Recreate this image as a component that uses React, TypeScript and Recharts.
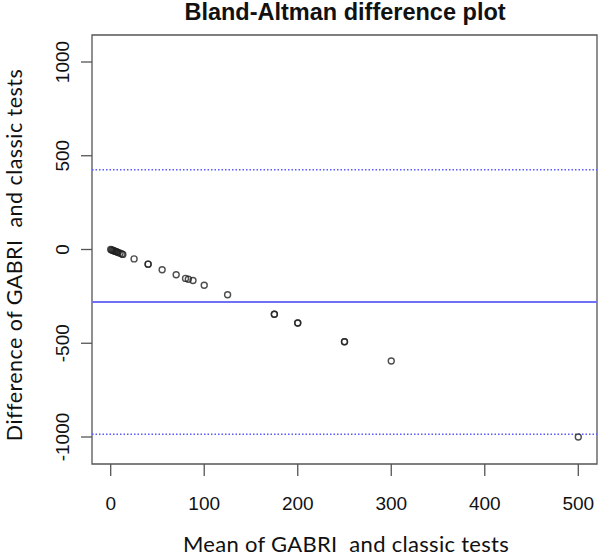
import { ScatterChart, Scatter, XAxis, YAxis, ReferenceLine, ReferenceArea } from 'recharts';

// Bland-Altman points (mean, difference)
const meanValues = [0, 1, 2, 3, 4, 5, 6, 7, 8, 10, 12, 13, 25, 40, 40, 55, 70, 80, 83, 88, 100, 125, 175, 175, 200, 200, 250, 250, 300, 500];
const diffValues = [0, -2, -4, -6, -8, -10, -12, -14, -16, -20, -24, -26, -50, -78, -78, -108, -135, -154, -159, -165, -191, -241, -345, -345, -392, -392, -492, -492, -595, -1000];

const xTicks = [0, 100, 200, 300, 400, 500];
const yTicks = [-1000, -500, 0, 500, 1000];

// bias and limits of agreement
const meanDiff = -280;
const upperLimit = 425;
const lowerLimit = -985;

const points = meanValues.map((m, i) => ({ mean: m, diff: diffValues[i] }));

const tickFont = '"Liberation Sans", Arial, sans-serif';
const titleFont = 'Lato, "Open Sans", sans-serif';

function XTick({ x, y, payload }: any) {
  return (
    <text x={x} y={y} dy={34} textAnchor="middle" fontFamily={tickFont} fontSize={19} fill="#111">
      {payload.value}
    </text>
  );
}

function YTick({ y, payload }: any) {
  const bx = 69;
  return (
    <text x={bx} y={y} textAnchor="middle" transform={`rotate(-90, ${bx}, ${y})`} fontFamily={tickFont} fontSize={19} fill="#111">
      {payload.value}
    </text>
  );
}

function OpenCircle({ cx, cy }: any) {
  return <circle cx={cx} cy={cy} r={3} fill="none" stroke="#222" strokeOpacity={0.8} strokeWidth={1.4} />;
}

export default function App() {
  return (
    <div style={{ position: 'absolute', left: 0, top: 0, width: 600, height: 556, background: '#fff' }}>
      <ScatterChart width={600} height={556} margin={{ top: 35, right: 3, bottom: 0, left: 0 }}>
        <XAxis
          type="number"
          dataKey="mean"
          domain={[-20, 520]}
          ticks={xTicks}
          axisLine={false}
          tickSize={12}
          tickMargin={0}
          tickLine={{ stroke: '#555', strokeWidth: 1.3 }}
          tick={<XTick />}
          height={92}
          allowDataOverflow
        />
        <YAxis
          type="number"
          dataKey="diff"
          domain={[-1144, 1144]}
          ticks={yTicks}
          axisLine={false}
          tickSize={11}
          tickMargin={0}
          tickLine={{ stroke: '#555', strokeWidth: 1.3 }}
          tick={<YTick />}
          width={92}
          allowDataOverflow
        />
        <ReferenceArea x1={-20} x2={520} y1={-1144} y2={1144} fill="none" stroke="#555" strokeWidth={1.3} ifOverflow="visible" />
        <ReferenceLine y={upperLimit} stroke="#5a5aff" strokeWidth={1.5} strokeDasharray="1.5 2" />
        <ReferenceLine y={meanDiff} stroke="#7070f5" strokeWidth={2} />
        <ReferenceLine y={lowerLimit} stroke="#5a5aff" strokeWidth={1.5} strokeDasharray="1.5 2" />
        <Scatter data={points} shape={<OpenCircle />} isAnimationActive={false} />
      </ScatterChart>
      <svg width={600} height={556} style={{ position: 'absolute', left: 0, top: 0, pointerEvents: 'none' }}>
        <text x={345} y={20} textAnchor="middle" fontFamily={tickFont} fontWeight="bold" fontSize={23.5} fill="#111">
          Bland-Altman difference plot
        </text>
        <text x={346} y={552} textAnchor="middle" fontFamily={titleFont} fontSize={22} letterSpacing={0.3} fill="#111" style={{ whiteSpace: 'pre' }}>
          Mean of GABRI  and classic tests
        </text>
        <text x={22} y={255} textAnchor="middle" transform="rotate(-90, 22, 255)" fontFamily={titleFont} fontSize={21.5} letterSpacing={0.45} fill="#111" style={{ whiteSpace: 'pre' }}>
          Difference of GABRI  and classic tests
        </text>
      </svg>
    </div>
  );
}
